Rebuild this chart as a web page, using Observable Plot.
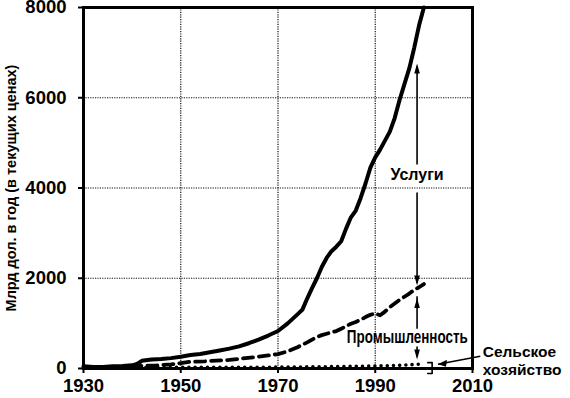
<!DOCTYPE html>
<html><head><meta charset="utf-8">
<script src="https://cdn.jsdelivr.net/npm/d3@7"></script>
<script src="https://cdn.jsdelivr.net/npm/@observablehq/plot@0.6"></script>
<style>body{margin:0;background:#fff}</style>
</head><body><div id="chart"></div>
<script>
// ---- data ----
const servicesYears  = [1930,1932,1934,1936,1938,1940,1941,1942,1944,1946,1948,1950,1952,1954,1956,1958,1960,1962,1964,1966,1968,1970,1972,1974,1975,1976,1977,1978,1979,1980,1981,1982,1983,1984,1985,1986,1987,1988,1989,1990,1991,1992,1993,1994,1995,1996,1997,1998,1999,2000];
const servicesValues = [50,35,35,50,55,70,100,170,200,210,230,260,300,320,360,400,440,490,560,640,730,830,1000,1200,1300,1550,1780,2000,2250,2450,2600,2700,2820,3100,3350,3500,3780,4100,4450,4680,4850,5050,5250,5550,5950,6300,6650,7100,7600,8000];
const industryYears  = [1930,1935,1940,1942,1945,1948,1950,1952,1955,1960,1965,1968,1970,1972,1974,1976,1978,1979,1980,1981,1982,1983,1984,1985,1986,1987,1988,1989,1990,1991,1992,1993,1994,1995,1996,1997,1998,1999,2000];
const industryValues = [30,25,30,60,70,90,120,150,160,190,250,290,320,380,470,580,700,740,770,800,830,880,940,990,1030,1080,1140,1190,1220,1180,1260,1360,1440,1520,1590,1660,1740,1800,1870];
const agricultureYears  = [1930,1940,1950,1960,1970,1980,1990,1995,2000];
const agricultureValues = [15,15,25,25,30,40,55,70,100];

const xTicks = [1930,1950,1970,1990,2010];
const yTicks = [0,2000,4000,6000,8000];
const xGrid = [1950,1970,1990];
const yGrid = [2000,4000,6000];

const yLabel = "Млрд дол. в год (в текущих ценах)";
const servicesLabel = "Услуги";
const industryLabel = "Промышленность";
const agricultureLabel = ["Сельское","хозяйство"];

// annotation positions (data units)
const arrowYear = 1998.6;
const servicesArrowSegments = [[1900,3900],[4520,6700]];
const servicesArrowTips = {down:1840, up:6760};
const industryArrowSegments = [[1600,880],[490,260]];
const industryArrowTips = {up:1560, down:200};
const servicesLabelPos = {year:1998.6, value:4300};
const industryLabelPos = {year:1996.6, value:690};
const agricultureLabelPos = [{year:2012.1, value:370},{year:2012.1, value:-30}];
const bracketPts = [{year:2000.8,value:130},{year:2001.7,value:130},{year:2001.7,value:-110},{year:2000.8,value:-110}];
const pointer = {from:{year:2011.6,value:270}, to:{year:2002.9,value:95}};

// ---- build tables ----
const services = servicesYears.map((y,i)=>({year:y,value:servicesValues[i]}));
const industry = industryYears.map((y,i)=>({year:y,value:industryValues[i]}));
const agriculture = agricultureYears.map((y,i)=>({year:y,value:agricultureValues[i]}));

const segs = [...servicesArrowSegments, ...industryArrowSegments].map(([a,b])=>({year:arrowYear,v1:a,v2:b}));
const upHead = {draw(c){c.moveTo(0,0);c.lineTo(-2.8,10);c.lineTo(2.8,10);c.closePath();}};
const downHead = {draw(c){c.moveTo(0,0);c.lineTo(-2.8,-10);c.lineTo(2.8,-10);c.closePath();}};
const leftHead = {draw(c){c.moveTo(0,0);c.lineTo(9,-4.5);c.lineTo(8,2.5);c.closePath();}};

const font = "'Liberation Sans', Arial, sans-serif";

const chart = Plot.plot({
  width: 570, height: 398,
  marginLeft: 83, marginRight: 98, marginTop: 7, marginBottom: 30,
  style: {fontFamily: font, fontWeight: "bold", background: "#fff", color: "#000", overflow: "visible"},
  x: {domain: [1930, 2010]},
  y: {domain: [0, 8000]},
  marks: [
    Plot.gridX(xGrid, {stroke: "#111", strokeOpacity: 1, strokeWidth: 1.2, strokeDasharray: "1.2 1.2"}),
    Plot.gridY(yGrid, {stroke: "#111", strokeOpacity: 1, strokeWidth: 1.2, strokeDasharray: "1.2 1.2"}),
    Plot.line(agriculture, {x: "year", y: "value", strokeWidth: 3.6, strokeDasharray: "0 6.2", strokeLinecap: "round", stroke: "#000"}),
    Plot.line(industry, {x: "year", y: "value", strokeWidth: 3.8, strokeDasharray: "10 6", stroke: "#000"}),
    Plot.line(services, {x: "year", y: "value", strokeWidth: 4, stroke: "#000", strokeLinejoin: "round"}),
    Plot.frame({stroke: "#000", strokeWidth: 3}),
    Plot.axisX(xTicks, {tickSize: 5, tickPadding: 5, fontSize: 18.5, fontWeight: "bold", strokeWidth: 2, tickFormat: d => String(d), label: null}),
    Plot.axisY(yTicks, {tickSize: 5, tickPadding: 12, fontSize: 18.5, fontWeight: "bold", strokeWidth: 2, tickFormat: d => String(d), label: null}),
    Plot.text([yLabel], {frameAnchor: "left", textAnchor: "middle", dx: -72, rotate: -90, fontSize: 14.5, fontWeight: "bold", text: d => d}),
    // arrows
    Plot.link(segs, {x1: "year", x2: "year", y1: "v1", y2: "v2", stroke: "#000", strokeWidth: 1.6}),
    Plot.dot([{year: arrowYear, value: servicesArrowTips.up}, {year: arrowYear, value: industryArrowTips.up}], {x: "year", y: "value", symbol: upHead, fill: "#000", stroke: "none", r: 4}),
    Plot.dot([{year: arrowYear, value: servicesArrowTips.down}, {year: arrowYear, value: industryArrowTips.down}], {x: "year", y: "value", symbol: downHead, fill: "#000", stroke: "none", r: 4}),
    Plot.line(bracketPts, {x: "year", y: "value", stroke: "#000", strokeWidth: 1.6}),
    Plot.link([pointer], {x1: d => d.from.year, y1: d => d.from.value, x2: d => d.to.year, y2: d => d.to.value, stroke: "#000", strokeWidth: 1.6}),
    Plot.dot([pointer.to], {x: "year", y: "value", symbol: leftHead, fill: "#000", stroke: "none", r: 4}),
    // labels
    Plot.text([servicesLabelPos], {x: "year", y: "value", text: () => servicesLabel, fontSize: 16, fontWeight: "bold", fill: "#000"}),
    Plot.text([industryLabelPos], {x: "year", y: "value", text: () => industryLabel, fontSize: 17.5, fontWeight: "bold", fill: "#000", className: "narrow-label"}),
    Plot.text(agricultureLabelPos, {x: "year", y: "value", text: (d, i) => agricultureLabel[i], fontSize: 15.5, fontWeight: "bold", textAnchor: "start", fill: "#000"})
  ]
});
// condense the industry label to the narrow look of the original
d3.select(chart).selectAll("g.narrow-label text").attr("textLength", 121).attr("lengthAdjust", "spacingAndGlyphs");
document.getElementById("chart").appendChild(chart);
</script>
</body></html>
